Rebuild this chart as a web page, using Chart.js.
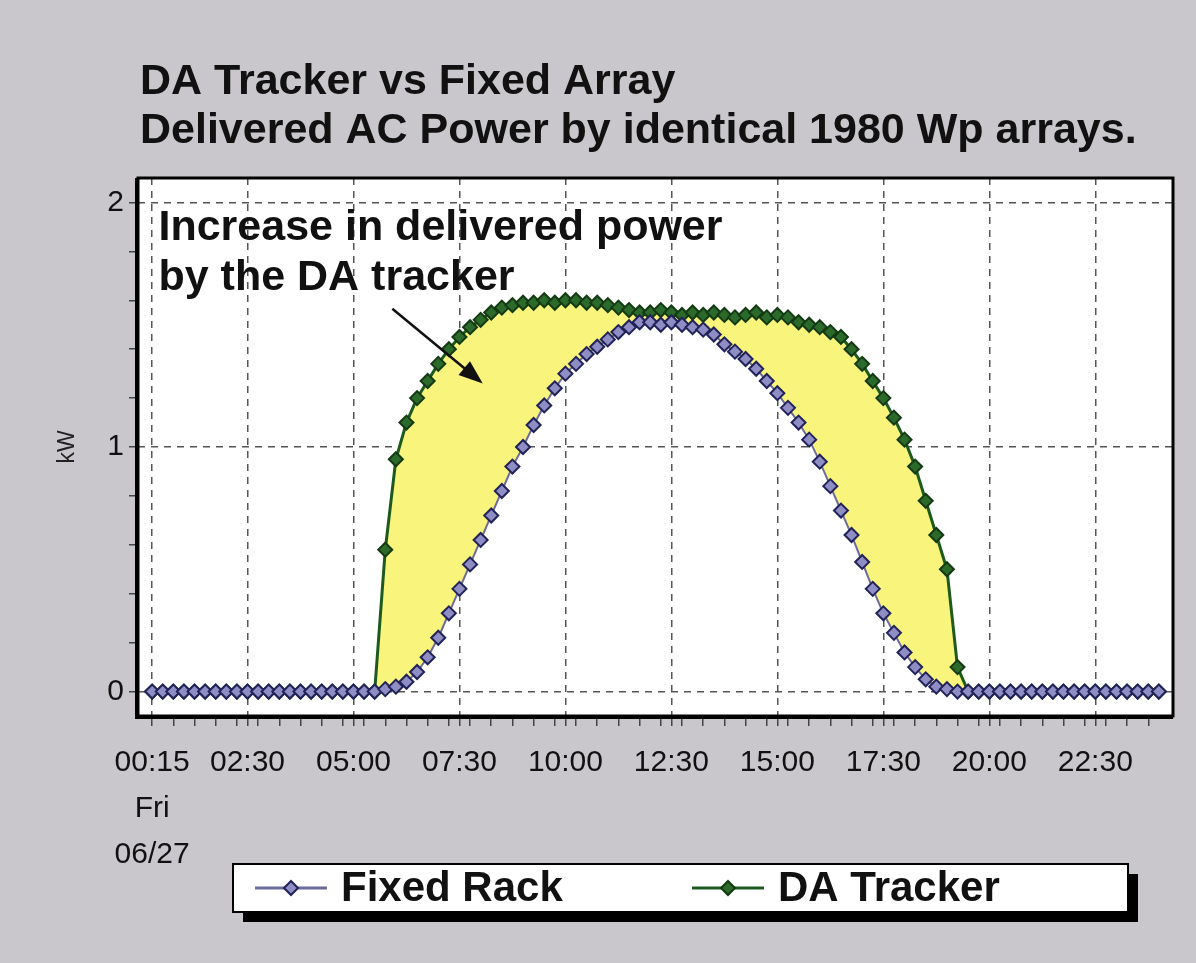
<!DOCTYPE html>
<html>
<head>
<meta charset="utf-8">
<script src="https://cdn.jsdelivr.net/npm/chart.js@4.4.1/dist/chart.umd.min.js"></script>
<style>
  html, body { margin: 0; padding: 0; background: #fff; }
</style>
</head>
<body>
<canvas id="powerChart" width="1196" height="963"></canvas>
<script>
// quarter-hour slots, minutes since midnight: 00:15 .. 24:00
const slots = [];
for (let m = 15; m <= 1440; m += 15) slots.push(m);

// kW, one per slot
const fixedRack = [
  0, 0, 0, 0, 0, 0, 0, 0, 0, 0, 0, 0, 0, 0, 0, 0, 0, 0, 0, 0, 0, 0,
  0.01, 0.02, 0.04, 0.08, 0.14, 0.22, 0.32, 0.42, 0.52, 0.62, 0.72, 0.82, 0.92, 1.00,
  1.09, 1.17, 1.24, 1.30, 1.34, 1.38, 1.41, 1.44, 1.47, 1.49, 1.51, 1.51, 1.50, 1.51,
  1.50, 1.49, 1.48, 1.46, 1.42, 1.39, 1.36, 1.32, 1.27, 1.22, 1.16, 1.10, 1.03, 0.94,
  0.84, 0.74, 0.64, 0.53, 0.42, 0.32, 0.24, 0.16, 0.10, 0.05, 0.02, 0.01,
  0, 0, 0, 0, 0, 0, 0, 0, 0, 0, 0, 0, 0, 0, 0, 0, 0, 0, 0, 0
];
const daTracker = [
  0, 0, 0, 0, 0, 0, 0, 0, 0, 0, 0, 0, 0, 0, 0, 0, 0, 0, 0, 0, 0,
  0, 0.58, 0.95, 1.10, 1.20, 1.27, 1.34, 1.40, 1.45, 1.49, 1.52, 1.55, 1.57, 1.58,
  1.59, 1.59, 1.60, 1.59, 1.60, 1.60, 1.59, 1.59, 1.58, 1.57, 1.56, 1.55, 1.55, 1.56,
  1.55, 1.54, 1.55, 1.54, 1.55, 1.54, 1.53, 1.54, 1.55, 1.53, 1.54, 1.53, 1.51, 1.50,
  1.49, 1.47, 1.45, 1.40, 1.34, 1.27, 1.20, 1.12, 1.03, 0.92, 0.78, 0.64, 0.50, 0.10,
  0, 0, 0, 0, 0, 0, 0, 0, 0, 0, 0, 0, 0, 0, 0, 0, 0, 0, 0
];

// x axis labels (minutes -> text)
const majorTicks = [15, 150, 300, 450, 600, 750, 900, 1050, 1200, 1350];
const majorLabels = [['00:15', 'Fri', '06/27'], '02:30', '05:00', '07:30', '10:00',
                     '12:30', '15:00', '17:30', '20:00', '22:30'];
const yLabels = [0, 1, 2];

const titleLines = ['DA Tracker vs Fixed Array', 'Delivered AC Power by identical 1980 Wp arrays.'];
const noteLines = ['Increase in delivered power', 'by the DA tracker'];

const FONT = '"Liberation Sans", Arial, sans-serif';
Chart.defaults.font.family = FONT;
Chart.defaults.color = '#111';

function pts(ys) {
  return ys.map((y, i) => ({ x: slots[i], y: y }));
}

// panel, titles, frame, note + arrow, boxed legend
const decor = {
  id: 'decor',
  beforeDraw(chart) {
    const { ctx, chartArea: a } = chart;
    ctx.save();
    ctx.fillStyle = '#c9c7cc';
    ctx.fillRect(0, 0, chart.width, chart.height);
    ctx.fillStyle = '#fff';
    ctx.fillRect(a.left, a.top, a.right - a.left, a.bottom - a.top);
    ctx.fillStyle = '#111';
    ctx.font = 'bold 43px ' + FONT;
    ctx.textBaseline = 'alphabetic';
    ctx.fillText(titleLines[0], 140, 94);
    ctx.fillText(titleLines[1], 140, 143);
    ctx.restore();
  },
  afterDatasetsDraw(chart) {
    const { ctx, chartArea: a, scales } = chart;
    const x = scales.x, y = scales.y;
    ctx.save();
    ctx.strokeStyle = '#000';
    ctx.fillStyle = '#000';
    ctx.lineWidth = 3;
    ctx.strokeRect(a.left, a.top, a.right - a.left, a.bottom - a.top);
    ctx.fillRect(a.left - 3, a.top, 3, a.bottom - a.top + 3);
    ctx.fillRect(a.left - 3, a.bottom, a.right - a.left + 3, 3);

    ctx.fillStyle = '#111';
    ctx.font = 'bold 43px ' + FONT;
    ctx.fillText(noteLines[0], x.getPixelForValue(24), y.getPixelForValue(1.845));
    ctx.fillText(noteLines[1], x.getPixelForValue(24), y.getPixelForValue(1.64));

    // arrow
    const x0 = x.getPixelForValue(355), y0 = y.getPixelForValue(1.565);
    const x1 = x.getPixelForValue(483), y1 = y.getPixelForValue(1.26);
    const ang = Math.atan2(y1 - y0, x1 - x0);
    ctx.strokeStyle = '#111';
    ctx.lineWidth = 2.5;
    ctx.beginPath();
    ctx.moveTo(x0, y0);
    ctx.lineTo(x1 - 14 * Math.cos(ang), y1 - 14 * Math.sin(ang));
    ctx.stroke();
    ctx.beginPath();
    ctx.moveTo(x1, y1);
    ctx.lineTo(x1 - 24 * Math.cos(ang) + 9 * Math.sin(ang), y1 - 24 * Math.sin(ang) - 9 * Math.cos(ang));
    ctx.lineTo(x1 - 24 * Math.cos(ang) - 9 * Math.sin(ang), y1 - 24 * Math.sin(ang) + 9 * Math.cos(ang));
    ctx.closePath();
    ctx.fill();
    ctx.restore();
  },
  afterDraw(chart) {
    const ctx = chart.ctx;
    const bx = 233, by = 864, bw = 895, bh = 48;
    ctx.save();
    ctx.fillStyle = '#000';
    ctx.fillRect(bx + 10, by + 10, bw, bh);
    ctx.fillStyle = '#fff';
    ctx.fillRect(bx, by, bw, bh);
    ctx.strokeStyle = '#000';
    ctx.lineWidth = 2;
    ctx.strokeRect(bx, by, bw, bh);
    const itemX = [255, 692];
    const cy = by + bh / 2;
    chart.data.datasets.forEach((ds, i) => {
      const lx = itemX[i];
      ctx.strokeStyle = ds.borderColor;
      ctx.lineWidth = 3;
      ctx.beginPath();
      ctx.moveTo(lx, cy);
      ctx.lineTo(lx + 72, cy);
      ctx.stroke();
      ctx.fillStyle = ds.pointBackgroundColor;
      ctx.strokeStyle = ds.pointBorderColor;
      ctx.lineWidth = 2;
      ctx.beginPath();
      ctx.moveTo(lx + 36, cy - 7);
      ctx.lineTo(lx + 43, cy);
      ctx.lineTo(lx + 36, cy + 7);
      ctx.lineTo(lx + 29, cy);
      ctx.closePath();
      ctx.fill();
      ctx.stroke();
      ctx.fillStyle = '#111';
      ctx.font = 'bold 42px ' + FONT;
      ctx.textBaseline = 'middle';
      ctx.fillText(ds.label, lx + 86, cy + 1);
    });
    ctx.restore();
  }
};

new Chart(document.getElementById('powerChart'), {
  type: 'line',
  data: {
    datasets: [
      {
        label: 'Fixed Rack',
        data: pts(fixedRack),
        borderColor: '#6c6c9c',
        borderWidth: 2,
        pointStyle: 'rectRot',
        pointRadius: 7,
        pointBackgroundColor: '#8e8ec4',
        pointBorderColor: '#22225a',
        pointBorderWidth: 2,
        fill: false
      },
      {
        label: 'DA Tracker',
        data: pts(daTracker),
        borderColor: '#1d5a1d',
        borderWidth: 3,
        pointStyle: 'rectRot',
        pointRadius: 7,
        pointBackgroundColor: '#2c6a2c',
        pointBorderColor: '#133a13',
        pointBorderWidth: 2,
        backgroundColor: '#f8f47c',
        fill: '-1'
      }
    ]
  },
  options: {
    responsive: false,
    animation: false,
    devicePixelRatio: 1,
    layout: { padding: { left: 46, top: 178, right: 23, bottom: 0 } },
    plugins: {
      legend: { display: false },
      tooltip: { enabled: false }
    },
    scales: {
      x: {
        type: 'linear',
        min: -5,
        max: 1460,
        afterFit: s => { s.height = 247; },
        afterBuildTicks: s => {
          const t = [];
          for (let m = 15; m <= 1440; m += 30) t.push({ value: m });
          majorTicks.forEach(m => { if (!t.find(k => k.value === m)) t.push({ value: m }); });
          t.sort((p, q) => p.value - q.value);
          s.ticks = t;
        },
        ticks: {
          autoSkip: false,
          maxRotation: 0,
          padding: 14,
          color: '#111',
          font: { size: 30, lineHeight: 1.53 },
          callback: v => {
            const k = majorTicks.indexOf(v);
            return k >= 0 ? majorLabels[k] : '';
          }
        },
        grid: {
          color: c => majorTicks.includes(c.tick && c.tick.value) ? '#555' : 'rgba(0,0,0,0)',
          lineWidth: 1.5,
          tickColor: '#444',
          tickLength: 10,
          tickBorderDash: []
        },
        border: { display: false, dash: [7, 6] }
      },
      y: {
        min: -0.1,
        max: 2.1,
        afterFit: s => { s.width = 92; },
        afterBuildTicks: s => {
          const t = [];
          for (let v = 0; v <= 10; v++) t.push({ value: v / 5 });
          s.ticks = t;
        },
        title: {
          display: true,
          text: 'kW',
          color: '#222',
          font: { size: 23 },
          padding: { top: 8, bottom: 0 }
        },
        ticks: {
          padding: 5,
          color: '#111',
          font: { size: 30 },
          callback: v => yLabels.includes(v) ? String(v) : ''
        },
        grid: {
          color: c => yLabels.includes(c.tick && c.tick.value) ? '#555' : 'rgba(0,0,0,0)',
          lineWidth: 1.5,
          tickColor: '#444',
          tickLength: 9,
          tickBorderDash: []
        },
        border: { display: false, dash: [7, 6] }
      }
    }
  },
  plugins: [decor]
});
</script>
</body>
</html>
